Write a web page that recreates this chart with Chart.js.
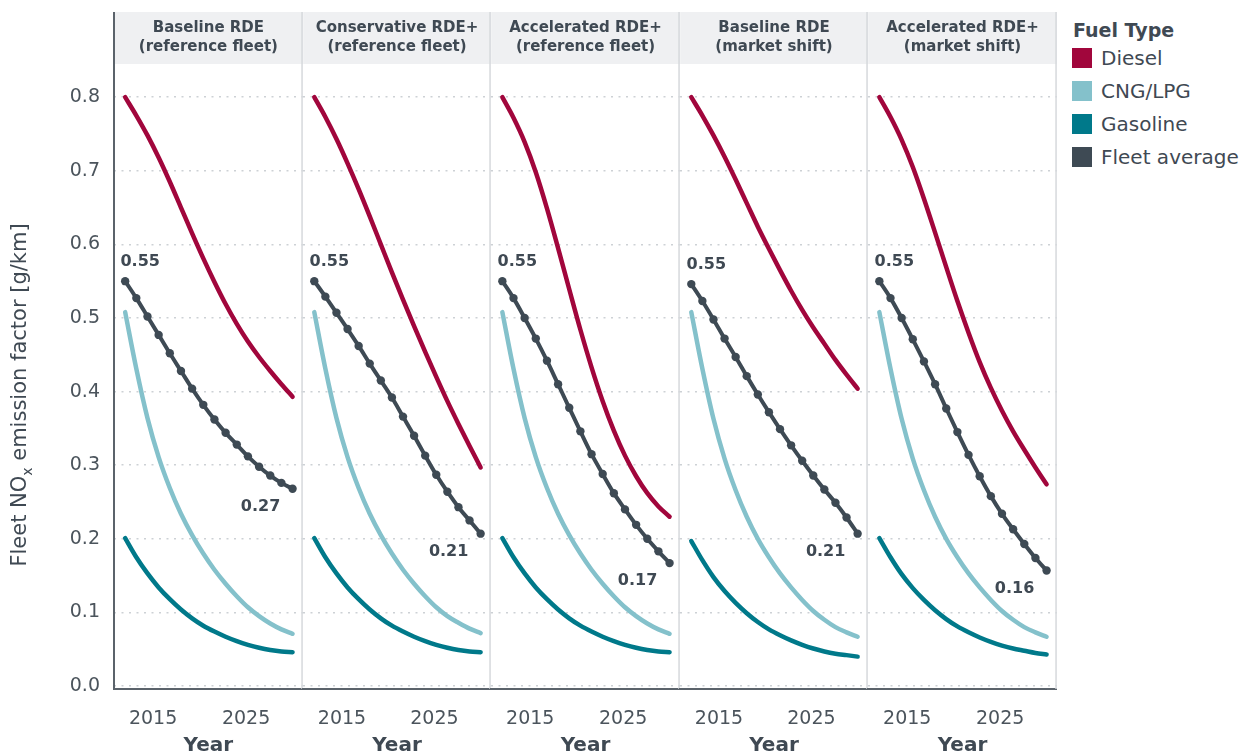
<!DOCTYPE html>
<html>
<head>
<meta charset="utf-8">
<title>Fleet NOx emission factor by scenario</title>
<script src="https://cdn.jsdelivr.net/npm/chart.js@4.4.1/dist/chart.umd.min.js"></script>
<style>
  body { margin: 0; background: #fff; width: 1247px; height: 756px; overflow: hidden; position: relative; font-family: 'DejaVu Sans', sans-serif; }
  canvas { position: absolute; top: 0; }
  #legend { position: absolute; left: 1072px; top: 0; color: #3f4953; }
  #legend .title { position: absolute; left: 1px; top: 16px; font-weight: 700; font-size: 19px; line-height: 28px; white-space: nowrap; }
  #legend .row { position: absolute; left: 0; height: 20px; white-space: nowrap; }
  #legend .sw { position: absolute; left: 0; top: 0; width: 20px; height: 20px; }
  #legend .lbl { position: absolute; left: 29px; top: -4px; font-size: 20px; line-height: 28px; }
</style>
</head>
<body>
<canvas id="p0"></canvas>
<canvas id="p1"></canvas>
<canvas id="p2"></canvas>
<canvas id="p3"></canvas>
<canvas id="p4"></canvas>
<div id="legend"></div>
<script>
// model years sampled for every scenario
const YEARS = [2012, 2013.2, 2014.4, 2015.6, 2016.8, 2018, 2019.2, 2020.4, 2021.6, 2022.8, 2024, 2025.2, 2026.4, 2027.6, 2028.8, 2030];

const PANEL_TITLES = [
  ['Baseline RDE', '(reference fleet)'],
  ['Conservative RDE+', '(reference fleet)'],
  ['Accelerated RDE+', '(reference fleet)'],
  ['Baseline RDE', '(market shift)'],
  ['Accelerated RDE+', '(market shift)']
];

// NOx emission factor, g/km, one row per scenario
const DIESEL = [
  [0.800, 0.775, 0.748, 0.718, 0.685, 0.650, 0.615, 0.581, 0.549, 0.519, 0.492, 0.468, 0.447, 0.428, 0.410, 0.393],
  [0.800, 0.773, 0.743, 0.710, 0.675, 0.638, 0.600, 0.562, 0.525, 0.489, 0.454, 0.420, 0.387, 0.356, 0.326, 0.297],
  [0.800, 0.772, 0.739, 0.698, 0.649, 0.595, 0.539, 0.484, 0.433, 0.387, 0.347, 0.313, 0.285, 0.262, 0.244, 0.230],
  [0.800, 0.775, 0.748, 0.719, 0.688, 0.656, 0.624, 0.594, 0.565, 0.537, 0.511, 0.487, 0.465, 0.443, 0.423, 0.404],
  [0.800, 0.773, 0.742, 0.705, 0.662, 0.616, 0.569, 0.523, 0.480, 0.440, 0.405, 0.374, 0.346, 0.321, 0.297, 0.274]
];
const CNG_LPG = [
  [0.508, 0.431, 0.364, 0.311, 0.269, 0.234, 0.205, 0.180, 0.158, 0.139, 0.122, 0.107, 0.095, 0.085, 0.077, 0.071],
  [0.508, 0.431, 0.364, 0.311, 0.269, 0.234, 0.205, 0.180, 0.158, 0.139, 0.122, 0.107, 0.095, 0.086, 0.078, 0.072],
  [0.508, 0.431, 0.364, 0.311, 0.269, 0.234, 0.205, 0.180, 0.158, 0.139, 0.122, 0.107, 0.095, 0.085, 0.077, 0.071],
  [0.508, 0.431, 0.363, 0.309, 0.266, 0.230, 0.200, 0.175, 0.153, 0.134, 0.117, 0.102, 0.090, 0.080, 0.073, 0.067],
  [0.508, 0.431, 0.363, 0.309, 0.266, 0.230, 0.200, 0.175, 0.153, 0.134, 0.117, 0.102, 0.090, 0.080, 0.073, 0.067]
];
const GASOLINE = [
  [0.201, 0.175, 0.153, 0.134, 0.118, 0.104, 0.092, 0.082, 0.074, 0.067, 0.061, 0.056, 0.052, 0.049, 0.047, 0.046],
  [0.201, 0.175, 0.153, 0.134, 0.118, 0.104, 0.092, 0.082, 0.074, 0.067, 0.061, 0.056, 0.052, 0.049, 0.047, 0.046],
  [0.201, 0.175, 0.153, 0.134, 0.118, 0.104, 0.092, 0.082, 0.074, 0.067, 0.061, 0.056, 0.052, 0.049, 0.047, 0.046],
  [0.197, 0.171, 0.148, 0.129, 0.113, 0.099, 0.087, 0.077, 0.069, 0.062, 0.056, 0.051, 0.047, 0.044, 0.042, 0.040],
  [0.201, 0.175, 0.152, 0.133, 0.117, 0.103, 0.091, 0.081, 0.073, 0.066, 0.060, 0.055, 0.051, 0.048, 0.045, 0.043]
];
const FLEET_AVG = [
  [0.550, 0.527, 0.502, 0.477, 0.452, 0.428, 0.404, 0.382, 0.362, 0.344, 0.328, 0.312, 0.298, 0.286, 0.276, 0.268],
  [0.550, 0.529, 0.507, 0.485, 0.462, 0.438, 0.415, 0.392, 0.366, 0.340, 0.313, 0.287, 0.264, 0.243, 0.225, 0.207],
  [0.550, 0.527, 0.500, 0.472, 0.442, 0.410, 0.378, 0.346, 0.315, 0.288, 0.262, 0.240, 0.219, 0.200, 0.183, 0.167],
  [0.546, 0.523, 0.498, 0.472, 0.447, 0.421, 0.396, 0.372, 0.349, 0.327, 0.306, 0.286, 0.267, 0.249, 0.229, 0.207],
  [0.550, 0.527, 0.500, 0.471, 0.441, 0.410, 0.377, 0.345, 0.314, 0.285, 0.258, 0.234, 0.213, 0.193, 0.174, 0.157]
];

const X_TICKS = [2015, 2025];
const FUELS = ['Diesel', 'CNG/LPG', 'Gasoline', 'Fleet average'];
const FUEL_COLORS = ['#a1063c', '#84c1cb', '#00798a', '#3e4a54'];

const TEXT = '#3f4953';
const TICK = '#4b545c';
const FONT = "'DejaVu Sans', sans-serif";
const EDGES = [114, 303, 491, 680, 868, 1057];   // panel borders, px
const STRIP_TOP = 12, PLOT_TOP = 64, PLOT_BOTTOM = 689, H = 756;

Chart.defaults.font.family = FONT;
Chart.defaults.color = TICK;

// strip header + panel borders
const facetFrame = {
  id: 'facetFrame',
  beforeDraw(chart, args, opts) {
    const { ctx, chartArea: a } = chart;
    ctx.save();
    ctx.fillStyle = '#eff0f2';
    ctx.fillRect(a.left, STRIP_TOP, a.right - a.left, a.top - STRIP_TOP);
    ctx.fillStyle = TEXT;
    ctx.font = `bold 15px ${FONT}`;
    ctx.textAlign = 'center';
    ctx.textBaseline = 'middle';
    const cx = (a.left + a.right) / 2;
    opts.title.forEach((t, k) => ctx.fillText(t, cx, 28 + k * 19));
    ctx.restore();
  },
  afterDraw(chart, args, opts) {
    const { ctx, chartArea: a } = chart;
    ctx.save();
    ctx.strokeStyle = '#d6d9dc';
    ctx.lineWidth = 1.5;
    ctx.beginPath();
    ctx.moveTo(a.right - 0.75, STRIP_TOP);
    ctx.lineTo(a.right - 0.75, a.bottom);
    ctx.stroke();
    if (opts.first) {
      ctx.strokeStyle = '#5b636b';
      ctx.lineWidth = 2;
      ctx.beginPath();
      ctx.moveTo(a.left, STRIP_TOP);
      ctx.lineTo(a.left, a.bottom + 1);
      ctx.stroke();
    }
    ctx.restore();
  }
};

// start / end value of the fleet average
const fleetLabels = {
  id: 'fleetLabels',
  afterDatasetsDraw(chart) {
    const { ctx } = chart;
    const pts = chart.getDatasetMeta(0).data;
    const vals = chart.data.datasets[0].data;
    const n = pts.length;
    ctx.save();
    ctx.fillStyle = TEXT;
    ctx.font = `bold 16px ${FONT}`;
    ctx.textAlign = 'center';
    ctx.textBaseline = 'middle';
    ctx.fillText(vals[0].y.toFixed(2), pts[0].x + 15, pts[0].y - 19);
    ctx.fillText(vals[n - 1].y.toFixed(2), pts[n - 1].x - 32, pts[n - 1].y + 18);
    ctx.restore();
  }
};

// y title with subscript x
const yTitle = {
  id: 'yTitle',
  afterDraw(chart) {
    const { ctx } = chart;
    const a = 'Fleet NO', sub = 'x', b = ' emission factor [g/km]';
    ctx.save();
    ctx.translate(21, 395);
    ctx.rotate(-Math.PI / 2);
    ctx.fillStyle = TEXT;
    ctx.textBaseline = 'middle';
    ctx.textAlign = 'left';
    ctx.font = `21px ${FONT}`;
    const wa = ctx.measureText(a).width, wb = ctx.measureText(b).width;
    ctx.font = `14px ${FONT}`;
    const ws = ctx.measureText(sub).width;
    let x = -(wa + ws + wb) / 2;
    ctx.font = `21px ${FONT}`;
    ctx.fillText(a, x, 0);
    x += wa;
    ctx.font = `14px ${FONT}`;
    ctx.fillText(sub, x, 7);
    x += ws;
    ctx.font = `21px ${FONT}`;
    ctx.fillText(b, x, 0);
    ctx.restore();
  }
};

function series(values) {
  return YEARS.map((x, k) => ({ x, y: values[k] }));
}

function makeChart(canvas, i) {
  const first = i === 0;
  const line = (label, values, color) => ({
    label, data: series(values), borderColor: color, backgroundColor: color,
    borderWidth: 4.5, pointRadius: 0, pointHoverRadius: 0, borderCapStyle: 'round', borderJoinStyle: 'round',
    cubicInterpolationMode: 'monotone', fill: false
  });

  const datasets = [
    Object.assign(line(FUELS[3], FLEET_AVG[i], FUEL_COLORS[3]), { borderWidth: 4, pointRadius: 4.2, pointHoverRadius: 4.2, pointBorderWidth: 0 }),
    line(FUELS[0], DIESEL[i], FUEL_COLORS[0]),
    line(FUELS[1], CNG_LPG[i], FUEL_COLORS[1]),
    line(FUELS[2], GASOLINE[i], FUEL_COLORS[2])
  ];

  return new Chart(canvas, {
    type: 'line',
    data: { datasets },
    plugins: first ? [facetFrame, fleetLabels, yTitle] : [facetFrame, fleetLabels],
    options: {
      responsive: false,
      animation: false,
      devicePixelRatio: 1,
      layout: { padding: { top: PLOT_TOP, left: 0, right: 0, bottom: 0 } },
      plugins: {
        legend: { display: false },
        tooltip: { enabled: false },
        facetFrame: { title: PANEL_TITLES[i], first }
      },
      scales: {
        x: {
          type: 'linear',
          min: 2010.8,
          max: 2031.1,
          afterBuildTicks: s => { s.ticks = X_TICKS.map(v => ({ value: v })); },
          afterFit: s => { s.height = H - PLOT_BOTTOM; },
          grid: { display: false },
          border: { display: true, color: '#5b636b', width: 2 },
          ticks: { color: TICK, font: { size: 19 }, padding: 11, maxRotation: 0, callback: v => String(v) },
          title: { display: true, text: 'Year', color: TEXT, font: { size: 20, weight: 'bold', lineHeight: 1 }, padding: { top: 0, bottom: 0 } }
        },
        y: {
          min: -0.004,
          max: 0.845,
          afterFit: s => { s.width = first ? EDGES[0] : 0; },
          grid: { color: '#cdd1d5', lineWidth: 1.5, drawTicks: false },
          border: { display: false, dash: [2, 5.5] },
          ticks: {
            display: first, stepSize: 0.1, includeBounds: false, padding: 14,
            color: TICK, font: { size: 19 }, callback: v => v.toFixed(1)
          }
        }
      }
    }
  });
}

// place each panel so its plot area sits exactly between its two borders
function buildPanel(i) {
  const canvas = document.getElementById('p' + i);
  const left = i === 0 ? 0 : EDGES[i];
  const width = EDGES[i + 1] - left;
  canvas.width = width;
  canvas.height = H;
  canvas.style.left = left + 'px';
  let chart = makeChart(canvas, i);
  const inL = Math.round(chart.chartArea.left - (EDGES[i] - left));
  const inR = Math.round(width - chart.chartArea.right);
  if (inL > 0 || inR > 0) {
    chart.destroy();
    canvas.width = width + inL + inR;
    canvas.height = H;
    canvas.style.left = (left - inL) + 'px';
    chart = makeChart(canvas, i);
  }
  return chart;
}

PANEL_TITLES.forEach((t, i) => buildPanel(i));

// legend
const legend = document.getElementById('legend');
legend.innerHTML = '<div class="title">Fuel Type</div>' + FUELS.map((f, k) =>
  `<div class="row" style="top:${48 + k * 33}px"><div class="sw" style="background:${FUEL_COLORS[k]}"></div><div class="lbl">${f}</div></div>`
).join('');
</script>
</body>
</html>
